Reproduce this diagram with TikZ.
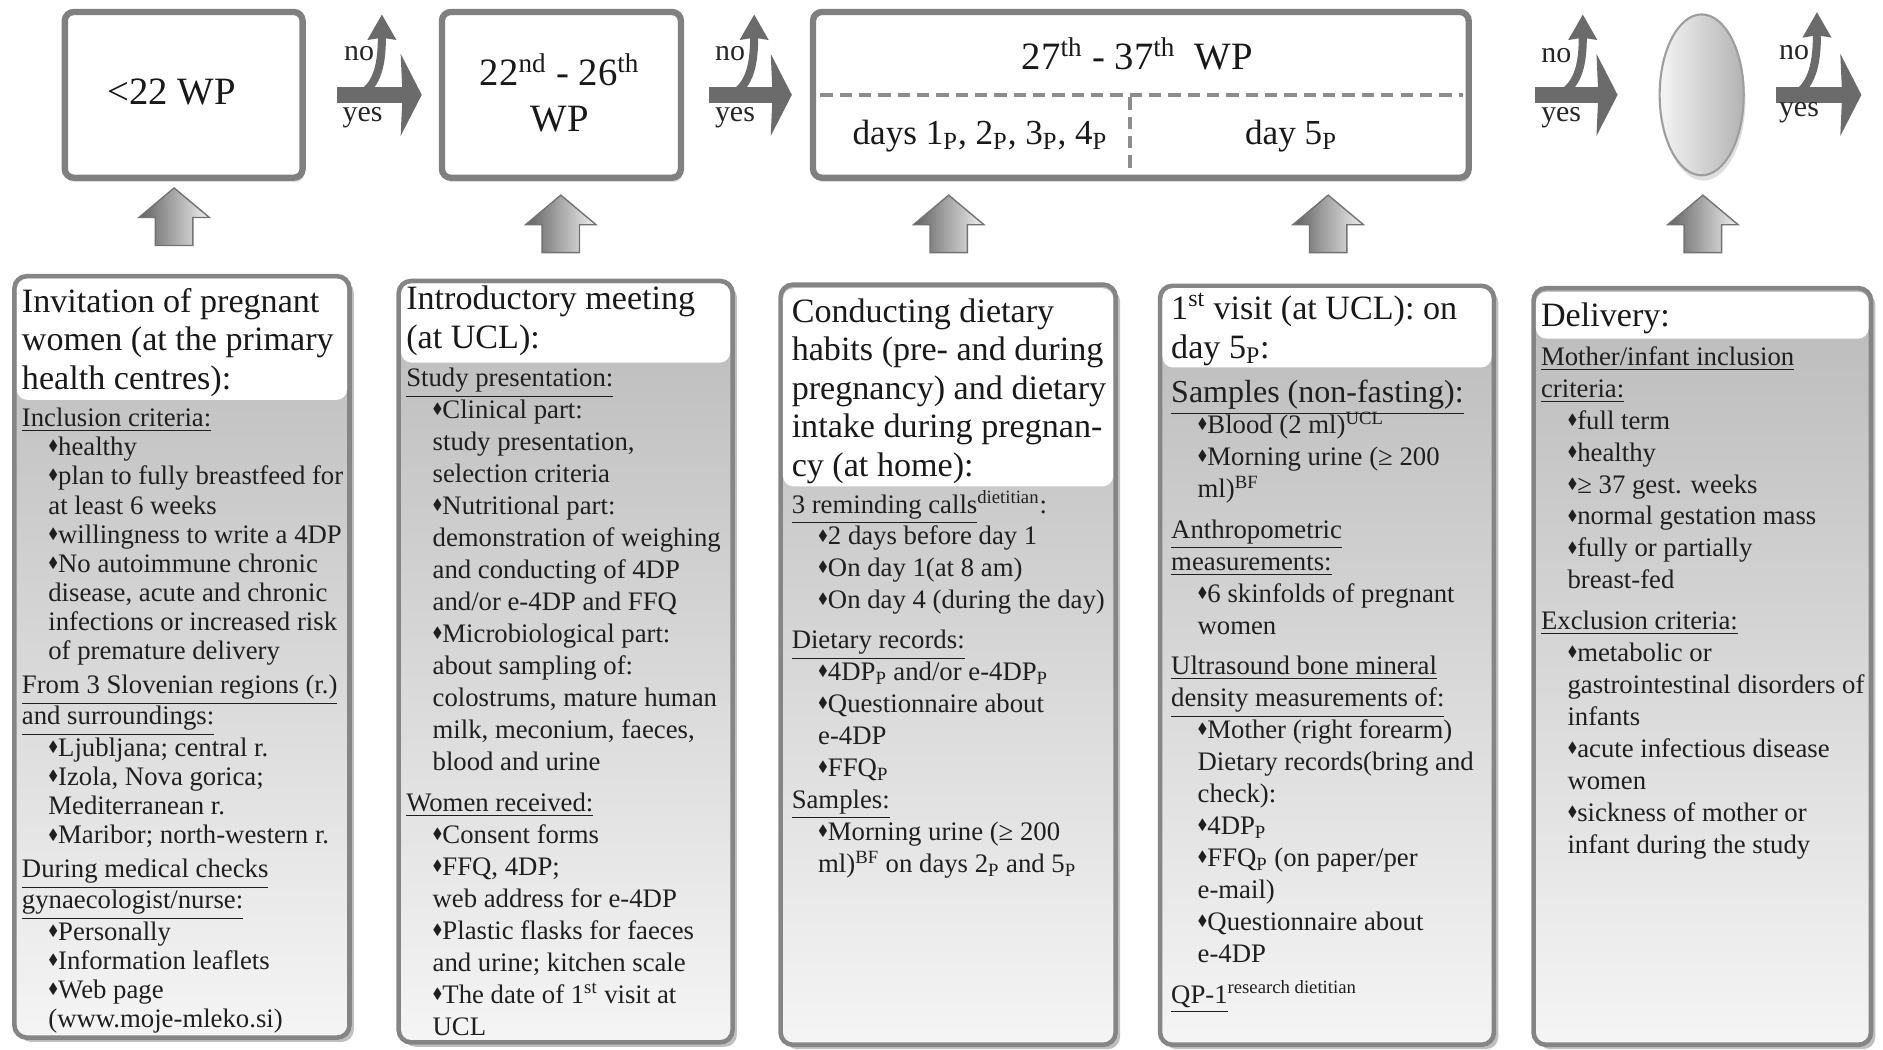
\documentclass[tikz,border=0pt]{standalone}
\usepackage{fontspec}
\setmainfont{Liberation Serif}
\usepackage{amssymb}
\usetikzlibrary{arrows.meta,positioning,fit,calc,shapes.geometric,shapes.arrows,shadows}

\newcommand\unitpx{0.024cm}
\newcommand\dmd{\raisebox{0.4ex}{\scalebox{0.55}{$\blacklozenge$}}}
\newcommand\ind{\hspace*{0.528cm}}
\newcommand\itm{\ind\dmd}
\newcommand\subP{\textsubscript{P}}
\newcommand\bodyfont{\fontsize{15.2}{18.16}\selectfont}
\newcommand\tightfont{\fontsize{15.2}{16.6}\selectfont}
\newcommand\titlefont{\fontsize{19.4}{21.9}\selectfont}

\begin{document}
\begin{tikzpicture}[x=\unitpx,y=-\unitpx,
  topbox/.style={draw=black!50,line width=3.6pt,rounded corners=5pt,fill=white,inner sep=0pt,
    drop shadow={opacity=0.25,shadow xshift=1pt,shadow yshift=-2.5pt}},
  toptxt/.style={align=center,inner sep=0pt,font=\fontsize{22}{26}\selectfont,text=black!90},
  card/.style={draw=black!48,line width=2.6pt,rounded corners=7pt,inner sep=0pt,
    top color=black!27,middle color=black!11,bottom color=black!4,drop shadow={opacity=0.5,shadow xshift=2.5pt,shadow yshift=-2.5pt}},
  ttlbg/.style={fill=white,rounded corners=6pt,inner sep=0pt},
  ttl/.style={anchor=north west,inner sep=0pt,align=left,font=\titlefont,text=black!90},
  body/.style={anchor=north west,inner sep=0pt,align=left,font=\bodyfont,text=black!88},
  daytxt/.style={font=\fontsize{20}{24}\selectfont,text=black!90},
  yesarr/.style={line width=8.9pt,draw=black!58,-{Stealth[length=0.42cm,width=1.63cm,inset=1pt]}},
  noarr/.style={line width=4.6pt,draw=black!58,-{Stealth[length=0.5cm,width=0.55cm,inset=1pt]}},
  yn/.style={font=\fontsize{17}{17}\selectfont,text=black!85},
  uparr/.style={single arrow,rotate=90,draw=black!55,line width=0.8pt,inner xsep=0pt,inner ysep=0.36cm,minimum height=1.15cm,
    single arrow head extend=0.33cm,single arrow tip angle=100,left color=black!62,right color=black!6},
  ellnode/.style={ellipse,draw=black!38,line width=1.2pt,minimum width=1.68cm,minimum height=3.216cm,inner sep=0pt,
    left color=black!4,right color=black!30,drop shadow={opacity=0.25,shadow xshift=1pt,shadow yshift=-3pt}},
  divline/.style={draw=black!45,line width=2pt,dash pattern=on 7pt off 4pt}
]
\fill[white] (0,0) rectangle (1568,874);
\useasboundingbox (0,0) rectangle (1568,874);

\node[topbox,fit={(54,10) (252,148)}] (b1) {};
\node[topbox,fit={(368,10) (567,148)}] (b2) {};
\node[topbox,fit={(677,10) (1223,148)}] (b3) {};
\node[ellnode] (ell) at (1417,79) {};
\node[toptxt] (b1-t) at (143,77) {<22 WP};
\node[toptxt] (b2-t) at (466,77) {22\textsuperscript{nd} - 26\textsuperscript{th}\\WP};
\node[toptxt] (b3-t) at (947,45) {27\textsuperscript{th} - 37\textsuperscript{th}\ \ WP};
\node[daytxt] (b3-l) at (816,113) {days 1\subP, 2\subP, 3\subP, 4\subP};
\node[daytxt] (b3-r) at (1075,113) {day 5\subP};
\draw[divline] (683,79) -- (1218,79);
\draw[divline] (941,81) -- (941,141);

\coordinate (s1) at (300,79);
\coordinate (n1) at (318,12);
\coordinate (s2) at (610,79);
\coordinate (n2) at (628,12);
\coordinate (s3) at (1299,79);
\coordinate (n3) at (1318,12);
\coordinate (s4) at (1495,79);
\coordinate (n4) at (1513,10);
\coordinate (endc) at (1550,79);
\draw[yesarr,shorten <=0.62cm,shorten >=0.34cm] (b1) -- (b2);
\draw[yesarr,shorten <=0.5cm,shorten >=0.36cm] (b2) -- (b3);
\draw[yesarr,shorten <=1.27cm,shorten >=0.82cm] (b3) -- (ell);
\draw[yesarr,shorten <=0.62cm] (ell) -- (endc);
\draw[noarr] (s1) .. controls (315,70) and (318,52) .. (n1);
\draw[noarr] (s2) .. controls (625,70) and (628,52) .. (n2);
\draw[noarr] (s3) .. controls (1315,70) and (1318,52) .. (n3);
\draw[noarr] (s4) .. controls (1510,70) and (1513,50) .. (n4);
\node[yn] (no1) at (299,45) {no};
\node[yn] (yes1) at (302,98) {yes};
\node[yn] (no2) at (608,45) {no};
\node[yn] (yes2) at (612,98) {yes};
\node[yn] (no3) at (1296,46) {no};
\node[yn] (yes3) at (1300,98) {yes};
\node[yn] (no4) at (1494,44) {no};
\node[yn] (yes4) at (1498,94) {yes};

\node[uparr] (up1) at (145,187) {};
\node[uparr] (up2) at (467,193) {};
\node[uparr] (up3) at (790,193) {};
\node[uparr] (up4) at (1106,193) {};
\node[uparr] (up5) at (1418,193) {};

\node[card,fit={(12,230) (291,864)}] (inv) {};
\node[ttlbg,fit={(14,232) (289,333)}] (inv-tb) {};
\node[ttl] (inv-t) at (18,237.4) {\strut Invitation of pregnant\\women (at the primary\\health centres):};
\node[body,font=\tightfont] (inv-b) at (18,337.8) {\strut\underline{Inclusion criteria:}\\
\itm healthy\\
\itm plan to fully breastfeed for\\
\ind at least 6 weeks\\
\itm willingness to write a 4DP\\
\itm No autoimmune chronic\\
\ind disease, acute and chronic\\
\ind infections or increased risk\\
\ind of premature delivery\\[2.5pt]
\underline{From 3 Slovenian regions (r.)}\\
\underline{and surroundings:}\\
\itm Ljubljana; central r.\\
\itm Izola, Nova gorica;\\
\ind Mediterranean r.\\
\itm Maribor; north-western r.\\[2.5pt]
\underline{During medical checks}\\
\underline{gynaecologist/nurse:}\\
\itm Personally\\
\itm Information leaflets\\
\itm Web page\\
\ind (www.moje-mleko.si)};

\node[card,fit={(332,234) (610,868)}] (intro) {};
\node[ttlbg,fit={(334,236) (608,302)}] (intro-tb) {};
\node[ttl] (intro-t) at (338,235.4) {\strut Introductory meeting\\(at UCL):};
\node[body] (intro-b) at (338,303.3) {\strut\underline{Study presentation:}\\
\itm Clinical part:\\
\ind study presentation,\\
\ind selection criteria\\
\itm Nutritional part:\\
\ind demonstration of weighing\\
\ind and conducting of 4DP\\
\ind and/or e-4DP and FFQ\\
\itm Microbiological part:\\
\ind about sampling of:\\
\ind colostrums, mature human\\
\ind milk, meconium, faeces,\\
\ind blood and urine\\[5.4pt]
\underline{Women received:}\\
\itm Consent forms\\
\itm FFQ, 4DP;\\
\ind web address for e-4DP\\
\itm Plastic flasks for faeces\\
\ind and urine; kitchen scale\\
\itm The date of 1\textsuperscript{st} visit at\\
\ind UCL};

\node[card,fit={(650,237) (929,870)}] (cond) {};
\node[ttlbg,fit={(652,240) (927,405)}] (cond-tb) {};
\node[ttl] (cond-t) at (659,245.4) {\strut Conducting dietary\\habits (pre- and during\\pregnancy) and dietary\\intake during pregnan-\\cy (at home):};
\node[body] (cond-b) at (659,408.3) {\strut\underline{3 reminding calls}\textsuperscript{dietitian}:\\
\itm 2 days before day 1\\
\itm On day 1(at 8 am)\\
\itm On day 4 (during the day)\\[4.5pt]
\underline{Dietary records:}\\
\itm 4DP\subP{} and/or e-4DP\subP\\
\itm Questionnaire about\\
\ind e-4DP\\
\itm FFQ\subP\\
\underline{Samples:}\\
\itm Morning urine (≥ 200\\
\ind ml)\textsuperscript{BF} on days 2\subP{} and 5\subP};

\node[card,fit={(966,238) (1244,870)}] (visit) {};
\node[ttlbg,fit={(968,240) (1242,306)}] (visit-tb) {};
\node[ttl] (visit-t) at (975,243.4) {\strut 1\textsuperscript{st} visit (at UCL): on\\day 5\subP:};
\node[anchor=base west,inner sep=0pt,font=\fontsize{18.2}{20}\selectfont,text=black!88] (visit-s) at (975,335) {\underline{Samples (non-fasting):}};
\node[body] (visit-b) at (975,342.3) {\strut\itm Blood (2 ml)\textsuperscript{UCL}\\
\itm Morning urine (≥ 200\\
\ind ml)\textsuperscript{BF}\\[5pt]
\underline{Anthropometric}\\
\underline{measurements:}\\
\itm 6 skinfolds of pregnant\\
\ind women\\[5pt]
\underline{Ultrasound bone mineral}\\
\underline{density measurements of:}\\
\itm Mother (right forearm)\\
\ind Dietary records(bring and\\
\ind check):\\
\itm 4DP\subP\\
\itm FFQ\subP{} (on paper/per\\
\ind e-mail)\\
\itm Questionnaire about\\
\ind e-4DP\\[5pt]
\underline{QP-1}\textsuperscript{research dietitian}};

\node[card,fit={(1277,240) (1558,870)}] (deliv) {};
\node[ttlbg,fit={(1279,243) (1556,282)}] (deliv-tb) {};
\node[ttl] (deliv-t) at (1283,249.4) {\strut Delivery:};
\node[body] (deliv-b) at (1283,285.3) {\strut\underline{Mother/infant inclusion}\\
\underline{criteria:}\\
\itm full term\\
\itm healthy\\
\itm ≥ 37 gest. weeks\\
\itm normal gestation mass\\
\itm fully or partially\\
\ind breast-fed\\[5pt]
\underline{Exclusion criteria:}\\
\itm metabolic or\\
\ind gastrointestinal disorders of\\
\ind infants\\
\itm acute infectious disease\\
\ind women\\
\itm sickness of mother or\\
\ind infant during the study};
\end{tikzpicture}
\end{document}
